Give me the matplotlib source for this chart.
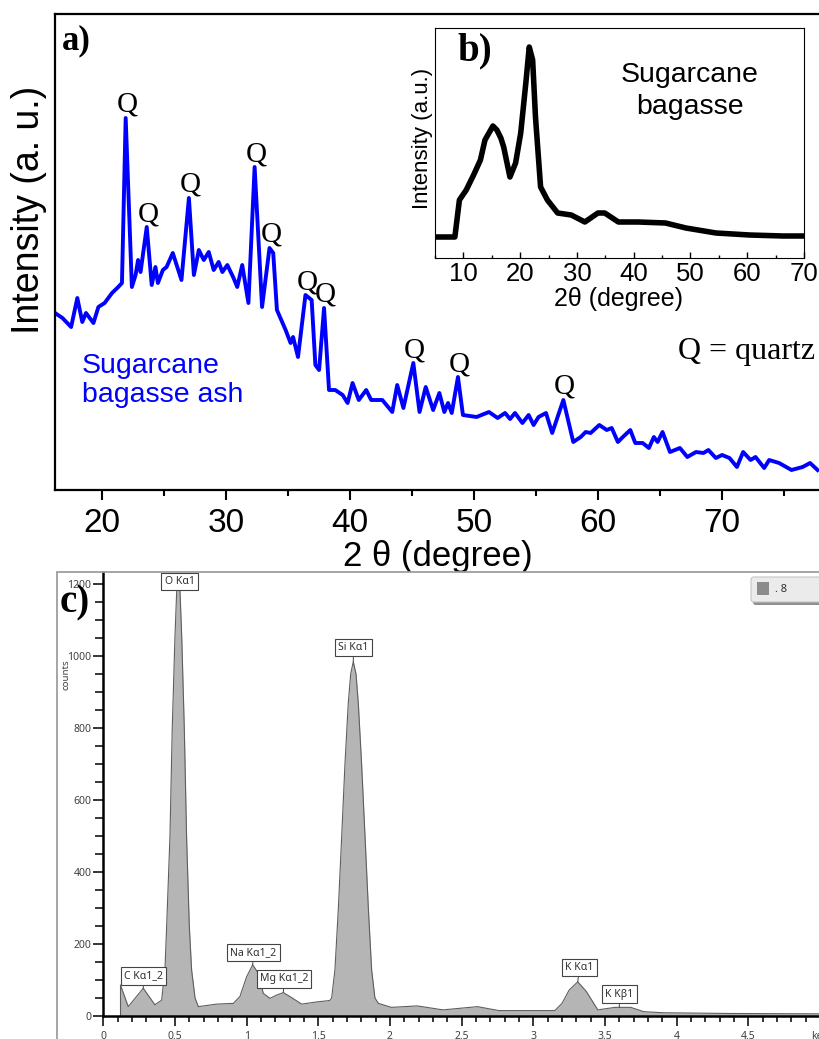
import matplotlib
matplotlib.use('Agg')
import matplotlib.pyplot as plt
from matplotlib.patches import Rectangle, FancyBboxPatch
from matplotlib.ticker import MultipleLocator, FuncFormatter

SANS = ['Liberation Sans', 'DejaVu Sans']
SERIF = ['Liberation Serif', 'DejaVu Serif']
EDS_FONT = ['Noto Sans', 'DejaVu Sans']
plt.rcParams['font.family'] = SANS

# a) XRD of sugarcane bagasse ash (2 theta, a.u.)
theta_ash = [16.2, 16.8, 17.5, 18.0, 18.4, 18.7, 19.3, 19.7, 20.2, 20.8,
             21.3, 21.6, 21.9, 22.4, 22.7, 22.9, 23.1, 23.6, 24.0, 24.3,
             24.5, 24.9, 25.2, 25.7, 26.4, 27.0, 27.4, 27.8, 28.2, 28.6,
             29.0, 29.4, 29.7, 30.1, 30.6, 30.9, 31.3, 31.8, 32.3, 32.9,
             33.5, 33.8, 34.1, 34.8, 35.2, 35.4, 35.8, 36.4, 36.9, 37.2,
             37.5, 37.9, 38.3, 38.8, 39.4, 39.8, 40.2, 40.7, 41.3, 41.7,
             42.6, 43.4, 43.8, 44.3, 45.1, 45.6, 46.1, 46.7, 47.2, 47.6,
             47.9, 48.2, 48.7, 49.1, 50.2, 51.2, 51.9, 52.5, 52.9, 53.3,
             53.9, 54.4, 54.8, 55.2, 55.8, 56.3, 57.2, 58.0, 58.6, 59.0,
             59.4, 60.1, 60.7, 61.1, 61.6, 62.0, 62.6, 63.0, 63.6, 64.1,
             64.5, 64.8, 65.2, 65.8, 66.6, 67.2, 67.9, 68.5, 68.9, 69.5,
             70.0, 70.6, 71.2, 71.7, 72.3, 72.7, 73.4, 73.8, 74.6, 75.6,
             76.5, 77.1, 77.7]
int_ash = [177, 172, 163, 192, 168, 177, 167, 183, 187, 197,
           203, 207, 372, 203, 215, 230, 218, 263, 205, 223,
           207, 220, 223, 237, 210, 292, 215, 240, 230, 238,
           220, 228, 218, 225, 212, 203, 225, 187, 323, 183,
           242, 237, 180, 160, 147, 153, 133, 195, 190, 125,
           120, 182, 100, 100, 95, 87, 107, 90, 100, 90,
           90, 78, 105, 82, 127, 78, 103, 80, 97, 78,
           87, 77, 113, 75, 73, 78, 72, 77, 71, 77,
           67, 75, 65, 73, 77, 57, 90, 48, 53, 58,
           57, 65, 60, 62, 48, 53, 60, 47, 47, 42,
           53, 48, 58, 38, 42, 33, 38, 37, 40, 32,
           35, 32, 23, 38, 30, 33, 22, 30, 27, 20,
           23, 27, 20]
q_theta = [21.9, 23.6, 27.0, 32.3, 33.5, 36.4, 37.9, 45.1, 48.7, 57.2]

# b) XRD of raw sugarcane bagasse
theta_bag = [5, 8.5, 9.3, 10.5, 11.8, 13.0, 13.8, 14.6, 15.2, 15.9,
             16.6, 17.1, 18.2, 19.2, 20.1, 21.0, 21.6, 22.2, 22.7, 23.6,
             24.8, 26.6, 29.0, 31.4, 33.7, 34.9, 37.3, 40.8, 45.6, 49.2,
             54.5, 60.4, 66.3, 70]
int_bag = [21, 21, 58, 68, 83, 98, 118, 126, 132, 128,
           120, 111, 81, 95, 125, 175, 211, 198, 141, 71,
           58, 45, 43, 36, 45, 45, 36, 36, 35, 30,
           25, 23, 22, 22]

# c) EDS spectrum
kev = [0.12, 0.12, 0.174, 0.279, 0.36, 0.407, 0.430, 0.442, 0.465, 0.481,
       0.500, 0.512, 0.523, 0.535, 0.547, 0.565, 0.581, 0.600, 0.616, 0.640,
       0.663, 0.79, 0.907, 0.953, 1.0, 1.042, 1.081, 1.116, 1.163, 1.209,
       1.256, 1.302, 1.384, 1.488, 1.58, 1.593, 1.616, 1.640, 1.663, 1.686,
       1.709, 1.726, 1.744, 1.763, 1.779, 1.802, 1.826, 1.849, 1.872, 1.895,
       1.919, 2.01, 2.19, 2.37, 2.61, 2.76, 3.15, 3.2, 3.25, 3.31,
       3.37, 3.45, 3.57, 3.68, 3.77, 3.91, 4.37, 4.97, 5.0]
counts = [0, 86, 26, 77, 31, 44, 128, 250, 498, 800,
          1054, 1180, 1235, 1180, 1054, 800, 498, 250, 128, 50,
          26, 33, 35, 54, 109, 142, 119, 63, 49, 58,
          65, 54, 33, 39, 43, 50, 128, 300, 498, 700,
          869, 950, 984, 950, 869, 700, 498, 300, 128, 50,
          35, 24, 28, 17, 26, 15, 15, 35, 72, 95,
          68, 17, 24, 24, 12, 9, 7, 6, 6]
line_names = ['O Kα1', 'Si Kα1', 'C Kα1_2', 'Na Kα1_2', 'Mg Kα1_2', 'K Kα1', 'K Kβ1']
line_kev = [0.523, 1.744, 0.279, 1.042, 1.256, 3.31, 3.60]
label_xy = [(0.532, 1206), (1.746, 1024), (0.28, 111), (1.048, 176),
            (1.261, 103), (3.323, 135), (3.60, 61)]

W, H = 820, 1039
fig = plt.figure(figsize=(W / 100, H / 100), dpi=100)


def box(l, t, r, b):
    return [l / W, 1 - b / H, (r - l) / W, (b - t) / H]


def fx(px):
    return px / W


def fy(py):
    return 1 - py / H


# ---- panel a
ax = fig.add_axes(box(55, 14, 820, 490))
ax.plot(theta_ash, int_ash, color='#0000ff', lw=2.8, solid_joinstyle='round')
ax.set_xlim(16.2, 77.9)
ax.set_ylim(0, 476)
ax.set_yticks([])
ax.spines['right'].set_visible(False)
for s in ['left', 'top', 'bottom']:
    ax.spines[s].set_linewidth(1.6)
ax.xaxis.set_major_locator(MultipleLocator(10))
ax.xaxis.set_minor_locator(MultipleLocator(5))
ax.tick_params(axis='x', which='major', length=7, width=1.5, labelsize=24, pad=6)
ax.tick_params(axis='x', which='minor', length=4, width=1.5)
ax.set_xlabel('2 θ (degree)', fontsize=25)
ax.xaxis.set_label_coords(0.5, -0.104)
ax.set_ylabel('Intensity (a. u.)', fontsize=27)
ax.yaxis.set_label_coords(-0.011, 0.588)

for t in q_theta:
    i = theta_ash.index(t)
    ax.annotate('Q', (t, int_ash[i]), xytext=(1, 0), textcoords='offset points',
                ha='center', va='bottom', fontsize=21, family=SERIF)

fig.text(fx(62), fy(24), 'a)', fontsize=25, fontweight='bold', family=SERIF, va='top')
fig.text(fx(815), fy(352), 'Q = quartz', fontsize=23, family=SERIF, ha='right', va='center')
fig.text(fx(82), fy(353), 'Sugarcane\nbagasse ash', fontsize=20.5, color='#0000ff',
         va='top', ha='left', linespacing=1.15)

# ---- panel b (inset)
axb = fig.add_axes(box(435, 28, 804, 258))
axb.plot(theta_bag, int_bag, color='black', lw=4, solid_joinstyle='round')
axb.set_xlim(5, 70)
axb.set_ylim(0, 230)
axb.set_yticks([])
axb.xaxis.set_major_locator(MultipleLocator(10))
axb.xaxis.set_minor_locator(MultipleLocator(5))
axb.tick_params(axis='x', which='both', direction='in', width=1)
axb.tick_params(axis='x', which='major', length=4, labelsize=18.5, pad=3)
axb.tick_params(axis='x', which='minor', length=2.5)
axb.set_xlabel('2θ (degree)', fontsize=18)
axb.xaxis.set_label_coords(0.496, -0.125)
axb.set_ylabel('Intensity (a.u.)', fontsize=16)
axb.yaxis.set_label_coords(-0.006, 0.52)
fig.text(fx(457), fy(32), 'b)', fontsize=28, fontweight='bold', family=SERIF, va='top')
fig.text(fx(690), fy(62), 'Sugarcane\nbagasse', fontsize=20.5, ha='center', va='top',
         linespacing=1.3)

# ---- panel c (EDS)
fig.add_artist(Rectangle((fx(57), -0.01), 1.0, fy(572) + 0.01, transform=fig.transFigure,
                         fill=False, edgecolor='#9e9e9e', lw=1.3))
axc = fig.add_axes(box(103.3, 572, 820, 1016))
axc.fill_between(kev, counts, color='#b5b5b5', lw=0)
axc.plot(kev, counts, color='#5e5e5e', lw=0.8)
axc.set_xlim(0, 5.0)
axc.set_ylim(0, 1233)
axc.spines['top'].set_visible(False)
axc.spines['right'].set_visible(False)
axc.spines['left'].set_linewidth(1.8)
axc.spines['bottom'].set_linewidth(1.8)
axc.yaxis.set_major_locator(MultipleLocator(200))
axc.yaxis.set_minor_locator(MultipleLocator(50))
axc.xaxis.set_major_locator(MultipleLocator(0.5))
axc.xaxis.set_minor_locator(MultipleLocator(0.1))
axc.xaxis.set_major_formatter(FuncFormatter(lambda v, p: 'keV' if v > 4.99 else '%g' % v))
axc.tick_params(which='both', direction='out', width=1.1, labelsize=7.5,
                labelcolor='#404040', pad=1.5)
axc.tick_params(axis='y', which='major', length=7)
axc.tick_params(axis='y', which='minor', length=5.5)
axc.tick_params(axis='x', which='major', length=7.5, pad=3)
axc.tick_params(axis='x', which='minor', length=4.5)
for lab in axc.get_xticklabels() + axc.get_yticklabels():
    lab.set_family(EDS_FONT)
axc.set_ylabel('counts', fontsize=7, color='#404040', family=EDS_FONT)
axc.yaxis.set_label_coords(-0.046, 0.768)

for name, k, (lx, ly) in zip(line_names, line_kev, label_xy):
    i = min(range(len(kev)), key=lambda j: abs(kev[j] - k))
    axc.annotate(name, (k, min(counts[i], 1230)), xytext=(lx, ly), textcoords='data',
                 ha='center', va='center', fontsize=7.5, family=EDS_FONT, color='#303030',
                 bbox=dict(boxstyle='square,pad=0.3', fc='white', ec='#444444', lw=0.8),
                 arrowprops=dict(arrowstyle='-', color='#444444', lw=0.7,
                                 shrinkA=0, shrinkB=0))

fig.text(fx(60), fy(584), 'c)', fontsize=28, fontweight='bold', family=SERIF, va='top')

# legend chip in the top right corner
fig.add_artist(FancyBboxPatch((fx(753), fy(605)), fx(70), 25 / H,
                              boxstyle='round,pad=0,rounding_size=0.003',
                              transform=fig.transFigure, fc='#8f8f8f', ec='none'))
fig.add_artist(FancyBboxPatch((fx(751), fy(602)), fx(70), 25 / H,
                              boxstyle='round,pad=0,rounding_size=0.003',
                              transform=fig.transFigure, fc='#ebebeb', ec='#c4c4c4', lw=0.8))
fig.add_artist(Rectangle((fx(757), fy(595)), fx(12), 13 / H, transform=fig.transFigure,
                         fc='#8c8c8c', ec='none'))
fig.text(fx(775), fy(589), '. 8', fontsize=8, family=EDS_FONT, color='#303030', va='center')

fig.savefig('out.png', dpi=100)
